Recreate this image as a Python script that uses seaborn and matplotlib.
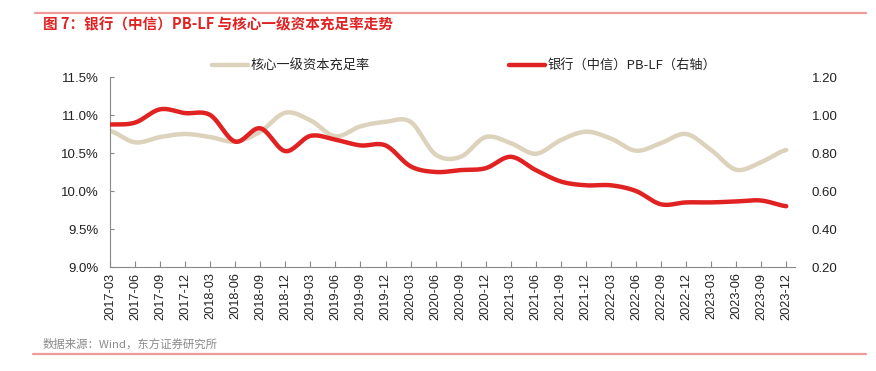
import numpy as np
import pandas as pd
import matplotlib
matplotlib.use("Agg")
import matplotlib.pyplot as plt
import seaborn as sns

# ---- data ----
quarters = ["2017-03", "2017-06", "2017-09", "2017-12",
            "2018-03", "2018-06", "2018-09", "2018-12",
            "2019-03", "2019-06", "2019-09", "2019-12",
            "2020-03", "2020-06", "2020-09", "2020-12",
            "2021-03", "2021-06", "2021-09", "2021-12",
            "2022-03", "2022-06", "2022-09", "2022-12",
            "2023-03", "2023-06", "2023-09", "2023-12"]
cet1_ratio = [10.79, 10.64, 10.71, 10.75,
              10.71, 10.65, 10.78, 11.03,
              10.93, 10.72, 10.85, 10.91,
              10.91, 10.48, 10.45, 10.71,
              10.63, 10.49, 10.67, 10.78,
              10.69, 10.53, 10.63, 10.75,
              10.54, 10.28, 10.38, 10.54]
pb_lf = [0.95, 0.96, 1.03, 1.01,
         1.00, 0.86, 0.93, 0.81,
         0.89, 0.87, 0.84, 0.84,
         0.73, 0.70, 0.71, 0.72,
         0.78, 0.71, 0.65, 0.63,
         0.63, 0.60, 0.53, 0.54,
         0.54, 0.545, 0.55, 0.52]
label_cet1 = "核心一级资本充足率"
label_pb = "银行（中信）PB-LF（右轴）"
title = "图 7：银行（中信）PB-LF 与核心一级资本充足率走势"
source = "数据来源：Wind，东方证券研究所"

sns.set_theme(style="white")
plt.rcParams["font.family"] = ["Noto Sans CJK SC", "DejaVu Sans"]

RED = "#E02222"
BEIGE = "#DDD3BC"
GRAY = "#888888"


def smooth(y, n=20):
    """Catmull-Rom style smoothing for rendering (Excel-like smoothed line)."""
    y = np.asarray(y, float)
    x = np.arange(len(y), dtype=float)
    xs, ys = [], []
    for i in range(len(y) - 1):
        p0 = y[i - 1] if i > 0 else y[i]
        p1, p2 = y[i], y[i + 1]
        p3 = y[i + 2] if i + 2 < len(y) else y[i + 1]
        t = np.linspace(0, 1, n, endpoint=False)
        c1 = p1 + (p2 - p0) / 6
        c2 = p2 - (p3 - p1) / 6
        ys.extend((1 - t) ** 3 * p1 + 3 * (1 - t) ** 2 * t * c1 + 3 * (1 - t) * t ** 2 * c2 + t ** 3 * p2)
        xs.extend(x[i] + t)
    xs.append(x[-1]); ys.append(y[-1])
    return np.array(xs), np.array(ys)


fig = plt.figure(figsize=(8.76, 3.71), dpi=100)
ax = fig.add_axes([110 / 876, 1 - 267 / 371, (795 - 110) / 876, (267 - 77) / 371])
ax2 = ax.twinx()

xs1, ys1 = smooth(cet1_ratio)
xs2, ys2 = smooth(pb_lf)
df1 = pd.DataFrame({"x": xs1, "y": ys1})
df2 = pd.DataFrame({"x": xs2, "y": ys2})

sns.lineplot(data=df1, x="x", y="y", ax=ax, color=BEIGE, lw=3.2, label=label_cet1, legend=False)
sns.lineplot(data=df2, x="x", y="y", ax=ax2, color=RED, lw=3.2, label=label_pb, legend=False)

ax.set_xlim(0, 27.35)
ax.set_ylim(9.0, 11.5)
ax2.set_ylim(0.2, 1.2)
ax.set_yticks(np.arange(9.0, 11.51, 0.5))
ax.set_yticklabels([f"{v:.1f}%" for v in np.arange(9.0, 11.51, 0.5)])
ax2.set_yticks(np.arange(0.2, 1.21, 0.2))
ax2.set_yticklabels([f"{v:.2f}" for v in np.arange(0.2, 1.21, 0.2)])
ax.set_xticks(range(len(quarters)))
ax.set_xticklabels(quarters, rotation=90)
ax.set_xlabel(""); ax.set_ylabel(""); ax2.set_ylabel("")

for a in (ax, ax2):
    for s in ("top", "right"):
        a.spines[s].set_visible(False)
ax2.spines["left"].set_visible(False)
ax2.spines["bottom"].set_visible(False)
ax.spines["left"].set_color(GRAY)
ax.spines["bottom"].set_color(GRAY)
ax.spines["left"].set_linewidth(0.8)
ax.spines["bottom"].set_linewidth(0.8)

ax.tick_params(axis="x", direction="in", length=4, color=GRAY, width=0.8,
               labelsize=9.2, labelcolor="#222222", pad=4, bottom=True)
ax.tick_params(axis="y", direction="in", length=3, color=GRAY, width=0.8,
               labelsize=9.5, labelcolor="#222222", pad=8, left=True)
ax2.tick_params(axis="y", length=0, labelsize=9.5, labelcolor="#222222", pad=12)
for lbl in ax.get_xticklabels():
    lbl.set_family("Liberation Sans")
for lbl in ax.get_yticklabels() + ax2.get_yticklabels():
    lbl.set_family("Liberation Sans")

# legend
h1, l1 = ax.get_legend_handles_labels()
h2, l2 = ax2.get_legend_handles_labels()
fig.legend(h1, l1, loc="center left", bbox_to_anchor=(207 / 876, 1 - 66 / 371),
           frameon=False, fontsize=9.5, handlelength=2.7, handletextpad=0.2, borderaxespad=0)
fig.legend(h2, l2, loc="center left", bbox_to_anchor=(504 / 876, 1 - 66 / 371),
           frameon=False, fontsize=9.5, handlelength=2.7, handletextpad=0.2, borderaxespad=0)

# title, rules, source
fig.add_artist(plt.Line2D([35 / 876, 866 / 876], [1 - 13 / 371, 1 - 13 / 371],
                          color="#F09A9A", lw=1.6))
fig.add_artist(plt.Line2D([33 / 876, 866 / 876], [1 - 354 / 371, 1 - 354 / 371],
                          color="#F09A9A", lw=1.6))
fig.text(43 / 876, 1 - 24 / 371, title, color="#E02222", fontsize=10.5, fontweight="bold",
         va="center", ha="left")
fig.text(43 / 876, 1 - 344 / 371, source, color="#8A8A8A", fontsize=8.2,
         va="center", ha="left")

fig.savefig("out.png", dpi=100)
